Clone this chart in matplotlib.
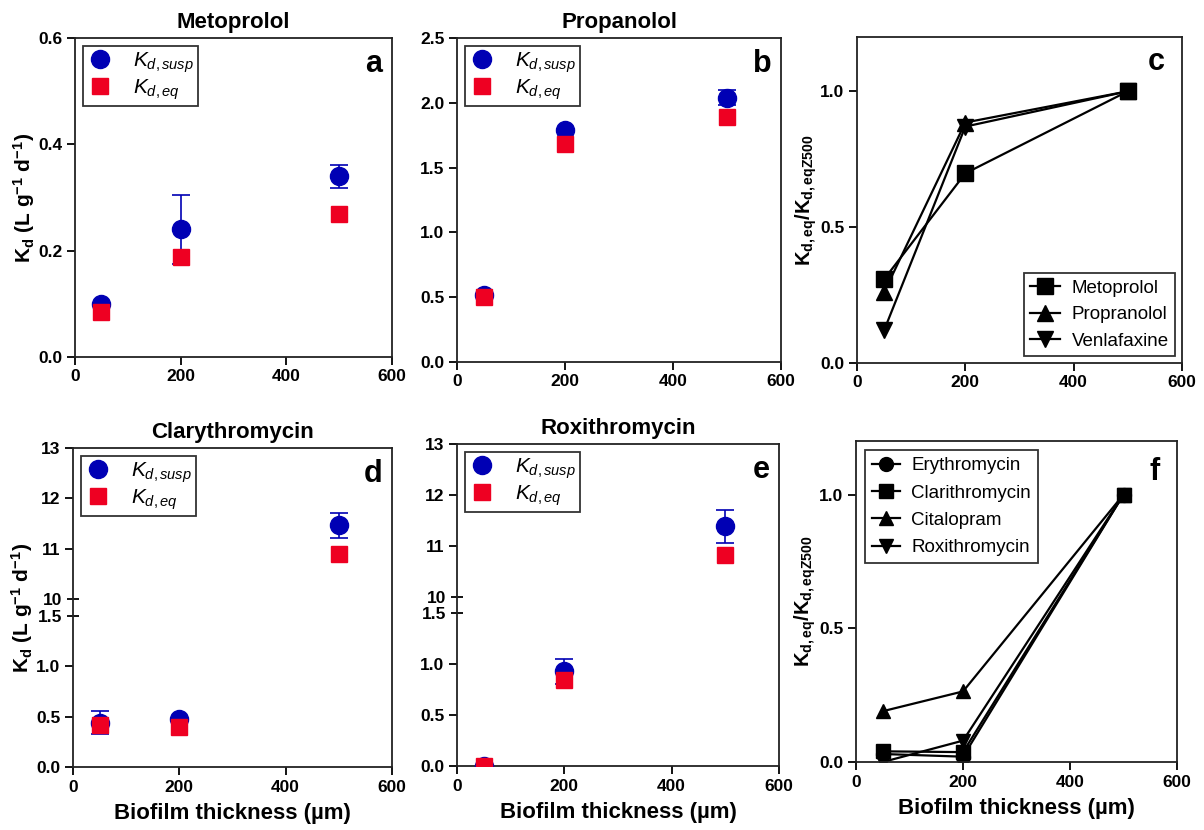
import numpy as np
import matplotlib
matplotlib.use("Agg")
import matplotlib.pyplot as plt

plt.rcParams['font.family'] = ['Liberation Sans', 'DejaVu Sans']
plt.rcParams['mathtext.fontset'] = 'custom'
plt.rcParams['mathtext.rm'] = 'Liberation Sans'
plt.rcParams['mathtext.it'] = 'Liberation Sans:italic'
plt.rcParams['mathtext.bf'] = 'Liberation Sans:bold'

# ---------------- data ----------------
thickness = [50, 200, 500]

meto_susp = [0.100, 0.240, 0.340]
meto_susp_err = [0.0, 0.065, 0.022]
meto_eq = [0.084, 0.188, 0.269]

prop_susp = [0.52, 1.79, 2.04]
prop_susp_err = [0.0, 0.0, 0.06]
prop_eq = [0.50, 1.68, 1.89]

clar_susp = [0.44, 0.48, 11.47]
clar_susp_err = [0.115, 0.0, 0.25]
clar_eq = [0.42, 0.40, 10.90]

roxi_susp = [0.0, 0.93, 11.38]
roxi_susp_err = [0.0, 0.12, 0.32]
roxi_eq = [0.0, 0.85, 10.81]

c_names = ['Metoprolol', 'Propranolol', 'Venlafaxine']
c_markers = ['s', '^', 'v']
c_values = [[0.308, 0.698, 1.0],
             [0.26, 0.885, 1.0],
             [0.12, 0.87, 1.0]]

f_names = ['Erythromycin', 'Clarithromycin', 'Citalopram', 'Roxithromycin']
f_markers = ['o', 's', '^', 'v']
f_values = [[0.03, 0.02, 1.0],
            [0.04, 0.037, 1.0],
            [0.19, 0.264, 1.0],
            [0.0, 0.08, 1.0]]

BLUE = '#0000B4'
RED = '#EE0022'

fig = plt.figure(figsize=(12.04, 8.30), dpi=100)

def style(ax):
    for s in ax.spines.values():
        s.set_linewidth(1.3)
        s.set_color('#222222')
    ax.tick_params(which='both', direction='out', length=6, width=1.3,
                   labelsize=12.5, pad=3)
    labs = (ax.get_xticklabels(which='both') +
            ax.get_yticklabels(which='both'))
    for lab in labs:
        lab.set_fontweight('bold')

def yl_kd(ax):
    ax.set_ylabel(r'K$_{\mathbf{d}}$ (L g$^{\mathbf{-1}}$ d$^{\mathbf{-1}}$)',
                  fontsize=15, fontweight='bold', labelpad=1)

def kd_panel(ax, susp, err, eq, title, letter):
    ax.plot(thickness, susp, 'o', color=BLUE, ms=13, zorder=3,
            label=r'$K_{d,susp}$')
    ax.errorbar(thickness, susp, yerr=err, fmt='none',
                ecolor=BLUE, elinewidth=1.2, capsize=6.5, capthick=1.2,
                zorder=2)
    ax.plot(thickness, eq, 's', color=RED, ms=11.5, zorder=4,
            label=r'$K_{d,eq}$')
    ax.set_xlim(0, 600)
    ax.set_xticks([0, 200, 400, 600])
    ax.set_title(title, fontsize=16, fontweight='bold', pad=7)
    ax.text(0.97, 0.92, letter, transform=ax.transAxes, ha='right',
            va='center', fontsize=22, fontweight='bold')
    leg = ax.legend(loc='upper left', fontsize=15, frameon=True,
                    fancybox=False, edgecolor='black', borderpad=0.2,
                    handletextpad=1.0, labelspacing=0.1,
                    bbox_to_anchor=(0.0, 1.0), borderaxespad=0.4,
                    handlelength=1.2)
    leg.get_frame().set_linewidth(1.3)

# broken-axis scale
G = 0.165
def fwd(y):
    y = np.asarray(y, float)
    return np.where(y <= 1.5, y,
                    np.where(y >= 10, 1.5 + G + (y - 10) * 0.5,
                             1.5 + (y - 1.5) * G / 8.5))
def inv(t):
    t = np.asarray(t, float)
    return np.where(t <= 1.5, t,
                    np.where(t >= 1.5 + G, 10 + (t - 1.5 - G) / 0.5,
                             1.5 + (t - 1.5) * 8.5 / G))

def broken(ax):
    ax.set_yscale('function', functions=(fwd, inv))
    ax.set_ylim(0, 13)
    ax.set_yticks([0, 0.5, 1.0, 11, 12, 13])
    ax.set_yticklabels(['0.0', '0.5', '1.0', '11', '12', '13'])
    ax.set_yticks([1.5, 10], minor=True)
    ax.set_yticklabels(['1.5', '10'], minor=True)

# ---- a ----
axa = fig.add_axes([0.0623, 0.5699, 0.2633, 0.3843])
kd_panel(axa, meto_susp, meto_susp_err, meto_eq, 'Metoprolol', 'a')
axa.set_ylim(0, 0.6)
axa.set_yticks([0, 0.2, 0.4, 0.6])
axa.set_yticklabels(['0.0', '0.2', '0.4', '0.6'])
yl_kd(axa)
style(axa)

# ---- b ----
axb = fig.add_axes([0.3796, 0.5639, 0.2691, 0.3904])
kd_panel(axb, prop_susp, prop_susp_err, prop_eq, 'Propanolol', 'b')
axb.set_ylim(0, 2.5)
axb.set_yticks([0, 0.5, 1.0, 1.5, 2.0, 2.5])
axb.set_yticklabels(['0.0', '0.5', '1.0', '1.5', '2.0', '2.5'])
style(axb)

# ---- c ----
axc = fig.add_axes([0.7118, 0.5627, 0.2699, 0.3928])
for name, mk, vals in zip(c_names, c_markers, c_values):
    axc.plot(thickness, vals, color='black', lw=1.6, marker=mk, ms=11,
             label=name)
axc.set_xlim(0, 600)
axc.set_ylim(0, 1.2)
axc.set_xticks([0, 200, 400, 600])
axc.set_yticks([0, 0.5, 1.0])
axc.set_yticklabels(['0.0', '0.5', '1.0'])
axc.set_ylabel(r'K$_{\mathbf{d,eq}}$/K$_{\mathbf{d,eqZ500}}$', fontsize=14.5,
               fontweight='bold', labelpad=1)
axc.text(0.948, 0.923, 'c', transform=axc.transAxes, ha='right',
         va='center', fontsize=22, fontweight='bold')
leg = axc.legend(loc='lower right', fontsize=13.5, fancybox=False,
                 edgecolor='black', handlelength=1.6, handletextpad=0.6,
                 borderpad=0.35, labelspacing=0.5, borderaxespad=0.35)
leg.get_frame().set_linewidth(1.3)
style(axc)

# ---- d ----
axd = fig.add_axes([0.0606, 0.0759, 0.2650, 0.3843])
broken(axd)
kd_panel(axd, clar_susp, clar_susp_err, clar_eq, 'Clarythromycin', 'd')
yl_kd(axd)
axd.set_xlabel('Biofilm thickness (µm)', fontsize=16, fontweight='bold',
               labelpad=6)
style(axd)
axd.tick_params(which='minor', direction='inout', length=9, width=1.3)

# ---- e ----
axe = fig.add_axes([0.3796, 0.0771, 0.2674, 0.3880])
broken(axe)
kd_panel(axe, roxi_susp, roxi_susp_err, roxi_eq, 'Roxithromycin', 'e')
axe.set_xlabel('Biofilm thickness (µm)', fontsize=16, fontweight='bold',
               labelpad=6)
style(axe)
axe.tick_params(which='minor', direction='inout', length=9, width=1.3)

# ---- f ----
axf = fig.add_axes([0.7110, 0.0819, 0.2666, 0.3867])
for name, mk, vals in zip(f_names, f_markers, f_values):
    axf.plot(thickness, vals, color='black', lw=1.6, marker=mk, ms=10,
             label=name)
axf.set_xlim(0, 600)
axf.set_ylim(0, 1.2)
axf.set_xticks([0, 200, 400, 600])
axf.set_yticks([0, 0.5, 1.0])
axf.set_yticklabels(['0.0', '0.5', '1.0'])
axf.set_ylabel(r'K$_{\mathbf{d,eq}}$/K$_{\mathbf{d,eqZ500}}$', fontsize=14.5,
               fontweight='bold', labelpad=1)
axf.set_xlabel('Biofilm thickness (µm)', fontsize=16, fontweight='bold',
               labelpad=6)
axf.text(0.947, 0.903, 'f', transform=axf.transAxes, ha='right',
         va='center', fontsize=22, fontweight='bold')
leg = axf.legend(loc='upper left', fontsize=13.5, fancybox=False,
                 edgecolor='black', handlelength=1.5, handletextpad=0.6,
                 borderpad=0.35, labelspacing=0.55, borderaxespad=0.5)
leg.get_frame().set_linewidth(1.3)
style(axf)

fig.savefig('out.png', dpi=100)
